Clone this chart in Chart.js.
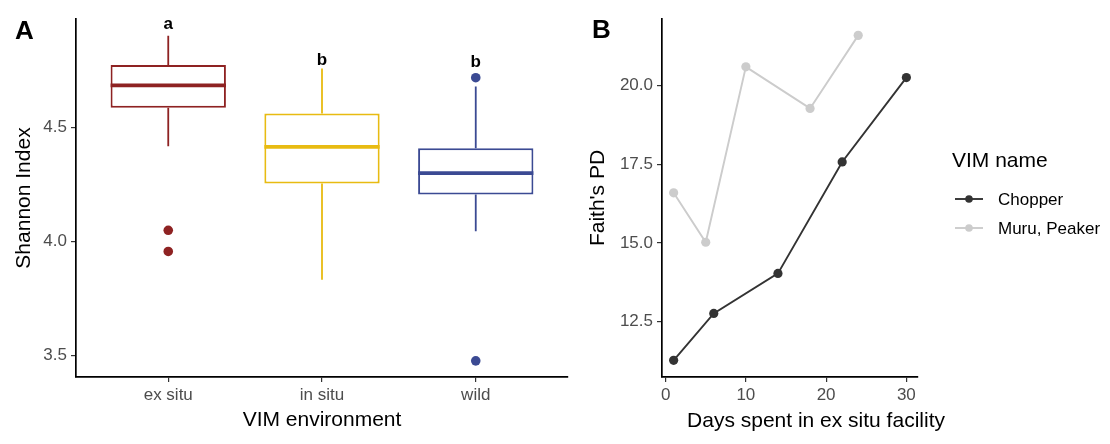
<!DOCTYPE html>
<html><head><meta charset="utf-8">
<script src="https://cdn.jsdelivr.net/npm/chart.js@4/dist/chart.umd.min.js"></script>
<style>
html,body{margin:0;padding:0;background:#fff;}
#wrap{position:relative;width:1110px;height:444px;overflow:hidden;background:#fff;}
canvas{position:absolute;top:0;}
#cA{left:0;} #cB{left:580px;}
</style></head><body>
<div id="wrap"><canvas id="cA" width="580" height="444"></canvas><canvas id="cB" width="530" height="444"></canvas></div>
<script>
// ---------- Panel A data ----------
const categories = ['ex situ', 'in situ', 'wild'];
const boxColors = ['#8e2222', '#e8bb12', '#3b4a93'];
const q1 = [4.588, 4.255, 4.206];
const medians = [4.686, 4.416, 4.300];
const q3 = [4.776, 4.563, 4.410];
const whiskerLow = [4.419, 3.832, 4.045];
const whiskerHigh = [4.904, 4.760, 4.681];
const outliers = [[4.049, 3.956], [], [4.720, 3.475]];
const groupLetters = ['a', 'b', 'b'];
const letterY = [4.932, 4.777, 4.766];
const yTicksA = [3.5, 4.0, 4.5];

// ---------- Panel B data ----------
const chopperDays = [1, 6, 14, 22, 30];
const chopperPD = [11.27, 12.76, 14.03, 17.57, 20.25];
const muruDays = [1, 5, 10, 18, 24];
const muruPD = [16.59, 15.02, 20.59, 19.27, 21.59];
const seriesNames = ['Chopper', 'Muru, Peaker'];
const seriesColors = ['#333333', '#cccccc'];
const xTicksB = [0, 10, 20, 30];
const yTicksB = [12.5, 15.0, 17.5, 20.0];

const FONT = "'Liberation Sans', Arial, Helvetica, sans-serif";
Chart.defaults.font.family = FONT;
Chart.defaults.animation = false;
const BOX_WIDTH = 0.75;

function axisStyle(extra) {
  return Object.assign({
    grid: { display: true, offset: false, drawOnChartArea: false, drawTicks: true, tickLength: 5, color: '#333333', lineWidth: 1.2 },
    border: { display: true, color: '#000000', width: 1.7 },
  }, extra);
}

// ---------- Panel A ----------
const datasetsA = [];
datasetsA.push({
  type: 'bar',
  data: categories.map((c, i) => ({ x: i + 1, y: [q1[i], q3[i]] })),
  backgroundColor: '#ffffff',
  borderColor: boxColors,
  borderWidth: 2,
  borderSkipped: false,
  barPercentage: BOX_WIDTH,
  categoryPercentage: 1,
  order: 3
});
categories.forEach((c, i) => {
  datasetsA.push({
    type: 'line',
    data: [{ x: i + 1, y: q3[i] }, { x: i + 1, y: whiskerHigh[i] }, { x: i + 1, y: null }, { x: i + 1, y: q1[i] }, { x: i + 1, y: whiskerLow[i] }],
    borderColor: boxColors[i], borderWidth: 1.8, pointRadius: 0, spanGaps: false, order: 2
  });
  datasetsA.push({
    type: 'line',
    data: [{ x: i + 1 - BOX_WIDTH / 2, y: medians[i] }, { x: i + 1 + BOX_WIDTH / 2, y: medians[i] }],
    borderColor: boxColors[i], borderWidth: 3.8, borderCapStyle: 'butt', pointRadius: 0, order: 0
  });
  datasetsA.push({
    type: 'scatter',
    data: outliers[i].map(v => ({ x: i + 1, y: v })),
    backgroundColor: boxColors[i], borderWidth: 0, pointRadius: 4.8, order: 0
  });
});

const panelLetterA = {
  id: 'panelLetterA',
  afterDraw(chart) {
    const ctx = chart.ctx;
    ctx.save();
    ctx.fillStyle = '#000';
    ctx.font = 'bold 26px ' + FONT;
    ctx.textBaseline = 'alphabetic';
    ctx.fillText('A', 15, 39);
    const xs = chart.scales.x, ys = chart.scales.y;
    ctx.font = 'bold 17px ' + FONT;
    ctx.textAlign = 'center';
    groupLetters.forEach((l, i) => {
      ctx.fillText(l, xs.getPixelForValue(i + 1), ys.getPixelForValue(letterY[i]));
    });
    ctx.restore();
  }
};

new Chart(document.getElementById('cA'), {
  type: 'bar',
  data: { datasets: datasetsA },
  plugins: [panelLetterA],
  options: {
    responsive: false, devicePixelRatio: 1, events: [],
    layout: { padding: { left: 0, right: 12, top: 19, bottom: 0 } },
    plugins: { legend: { display: false }, tooltip: { enabled: false } },
    scales: {
      x: axisStyle({
        type: 'linear', min: 0.4, max: 3.6, offset: false,
        afterBuildTicks: s => { s.ticks = categories.map((c, i) => ({ value: i + 1 })); },
        afterFit: s => { s.height = 67; },
        ticks: { color: '#4d4d4d', font: { size: 17 }, padding: 3, maxRotation: 0, autoSkip: false,
          callback: v => categories[Math.round(v) - 1] },
        title: { display: true, text: 'VIM environment', color: '#000', font: { size: 21 }, padding: { top: 0, bottom: 11 } }
      }),
      y: axisStyle({
        type: 'linear', min: 3.404, max: 4.978,
        afterBuildTicks: s => { s.ticks = yTicksA.map(v => ({ value: v })); },
        afterFit: s => { s.width = 76; },
        ticks: { color: '#4d4d4d', font: { size: 17 }, padding: 4, callback: v => v.toFixed(1) },
        title: { display: true, text: 'Shannon Index', color: '#000', font: { size: 21 }, padding: { top: 12, bottom: 0 } }
      })
    }
  }
});

// ---------- Panel B ----------
const panelDecorB = {
  id: 'panelDecorB',
  afterDraw(chart) {
    const ctx = chart.ctx;
    ctx.save();
    ctx.fillStyle = '#000';
    ctx.font = 'bold 26px ' + FONT;
    ctx.textBaseline = 'alphabetic';
    ctx.fillText('B', 12, 38);
    ctx.font = '21px ' + FONT;
    ctx.textAlign = 'center';
    ctx.fillText('Days spent in ex situ facility', 236, 427);
    ctx.textAlign = 'left';
    ctx.fillText('VIM name', 372, 167);
    ctx.font = '17px ' + FONT;
    chart.data.datasets.forEach((ds, i) => {
      const cy = 199 + i * 29;
      ctx.strokeStyle = ds.borderColor;
      ctx.lineWidth = ds.borderWidth;
      ctx.beginPath(); ctx.moveTo(375, cy); ctx.lineTo(403, cy); ctx.stroke();
      ctx.fillStyle = ds.backgroundColor;
      ctx.beginPath(); ctx.arc(389, cy, 3.8, 0, Math.PI * 2); ctx.fill();
      ctx.fillStyle = '#000';
      ctx.fillText(ds.label, 418, cy + 6);
    });
    ctx.restore();
  }
};

new Chart(document.getElementById('cB'), {
  type: 'line',
  data: {
    datasets: [
      { label: seriesNames[0], data: chopperDays.map((d, i) => ({ x: d, y: chopperPD[i] })),
        borderColor: seriesColors[0], backgroundColor: seriesColors[0], borderWidth: 1.9, pointRadius: 4.6, pointBorderWidth: 0, order: 0 },
      { label: seriesNames[1], data: muruDays.map((d, i) => ({ x: d, y: muruPD[i] })),
        borderColor: seriesColors[1], backgroundColor: seriesColors[1], borderWidth: 1.9, pointRadius: 4.6, pointBorderWidth: 0, order: 1 }
    ]
  },
  plugins: [panelDecorB],
  options: {
    responsive: false, devicePixelRatio: 1, events: [],
    layout: { padding: { left: 0, right: 192, top: 19, bottom: 0 } },
    plugins: { legend: { display: false }, tooltip: { enabled: false } },
    scales: {
      x: axisStyle({
        type: 'linear', min: -0.45, max: 31.45,
        afterBuildTicks: s => { s.ticks = xTicksB.map(v => ({ value: v })); },
        afterFit: s => { s.height = 67; },
        ticks: { color: '#4d4d4d', font: { size: 17 }, padding: 3, maxRotation: 0, autoSkip: false, callback: v => String(v) }
      }),
      y: axisStyle({
        type: 'linear', min: 10.74, max: 22.11,
        afterBuildTicks: s => { s.ticks = yTicksB.map(v => ({ value: v })); },
        afterFit: s => { s.width = 82; },
        ticks: { color: '#4d4d4d', font: { size: 17 }, padding: 4, callback: v => v.toFixed(1) },
        title: { display: true, text: "Faith's PD", color: '#000', font: { size: 21 }, padding: { top: 6, bottom: 0 } }
      })
    }
  }
});
</script>
</body></html>
